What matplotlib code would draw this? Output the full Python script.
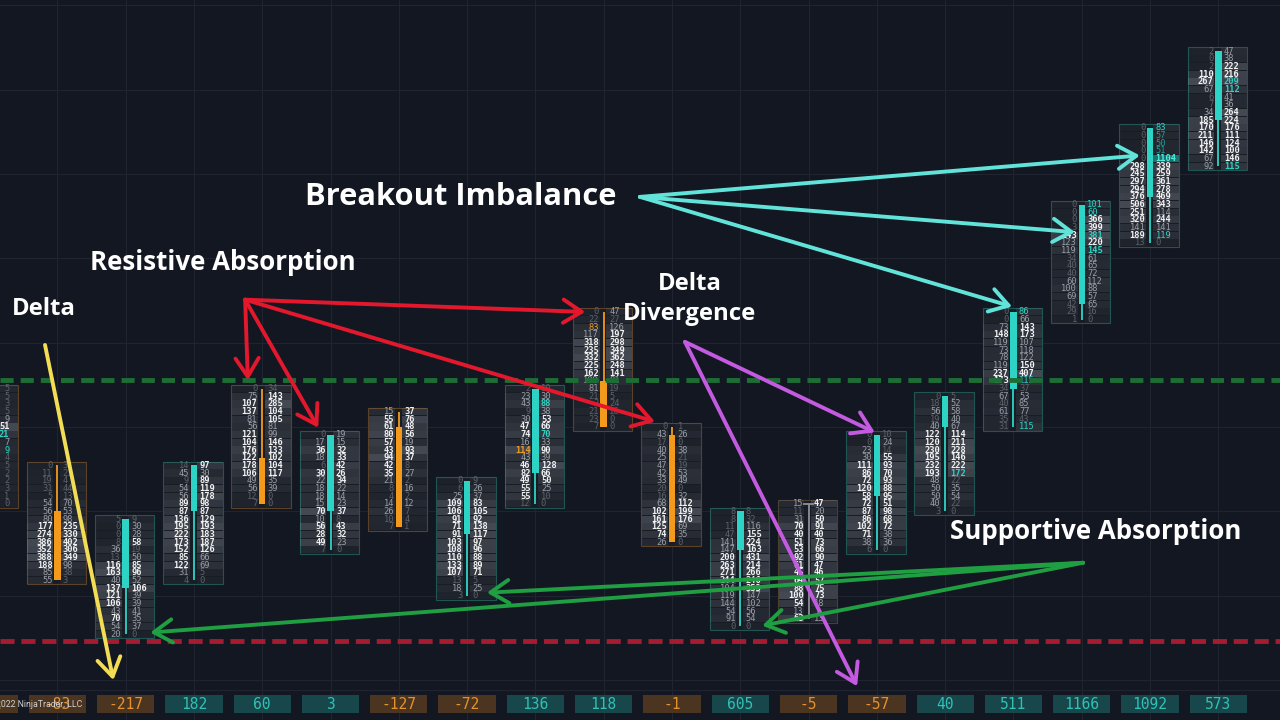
import matplotlib
matplotlib.use('Agg')
import matplotlib.pyplot as plt
from matplotlib.patches import Rectangle

# ---------------- data ----------------
tops = [43, 33, 26, 33, 43, 37, 40, 31, 43, 53, 38, 27, 28, 37, 42, 53, 67, 77, 87]
bids = [
    [12, 20, 8, 15, 30, 44, 38, 16, 22, 10, 9, 6, 5, 4, 2, 0],
    [0, 11, 19, 31, 5, 54, 56, 80, 177, 274, 386, 352, 388, 188, 85, 55],
    [5, 0, 0, 8, 36, 13, 116, 163, 40, 137, 121, 106, 43, 70, 54, 20],
    [14, 45, 9, 54, 56, 89, 87, 136, 195, 222, 173, 152, 85, 122, 31, 4],
    [0, 75, 107, 137, 81, 56, 121, 104, 176, 122, 178, 106, 49, 56, 12, 7],
    [0, 17, 36, 18, 6, 30, 22, 18, 18, 15, 70, 10, 56, 28, 49, 7],
    [15, 55, 61, 80, 57, 43, 94, 42, 35, 21, 8, 4, 14, 26, 10, 7],
    [0, 6, 25, 109, 106, 91, 71, 91, 103, 108, 110, 133, 107, 13, 18, 3],
    [2, 23, 43, 9, 30, 47, 74, 16, 114, 43, 46, 82, 49, 55, 55, 12],
    [0, 22, 83, 117, 318, 235, 332, 225, 162, 109, 81, 21, 2, 21, 23, 7],
    [0, 43, 17, 40, 25, 47, 42, 33, 20, 16, 68, 102, 161, 125, 74, 26],
    [8, 8, 11, 47, 141, 147, 200, 263, 271, 244, 104, 119, 144, 54, 91, 0],
    [15, 11, 31, 70, 40, 51, 53, 92, 61, 45, 64, 88, 100, 54, 13, 63],
    [0, 0, 23, 30, 111, 86, 72, 120, 58, 72, 87, 86, 102, 71, 38, 6],
    [0, 18, 56, 19, 40, 122, 120, 230, 195, 232, 193, 48, 50, 50, 40, 3],
    [0, 0, 73, 148, 119, 73, 78, 119, 237, 173, 34, 67, 40, 61, 35, 31],
    [0, 0, 0, 3, 243, 123, 119, 34, 40, 40, 60, 100, 69, 42, 29, 1],
    [0, 0, 0, 0, 0, 298, 245, 297, 294, 376, 506, 251, 320, 141, 189, 13],
    [2, 0, 2, 110, 267, 67, 6, 7, 34, 185, 170, 211, 146, 142, 67, 92],
]
asks = [
    [5, 5, 3, 5, 9, 51, 21, 7, 9, 4, 5, 2, 2, 3, 1, 0],
    [3, 21, 4, 44, 13, 70, 53, 98, 235, 330, 402, 306, 349, 98, 38, 3],
    [9, 30, 28, 58, 19, 50, 85, 96, 52, 106, 39, 39, 41, 35, 37, 0],
    [97, 30, 89, 119, 178, 98, 87, 129, 193, 183, 187, 126, 66, 69, 5, 0],
    [34, 143, 285, 104, 105, 81, 99, 146, 133, 102, 104, 117, 35, 39, 0, 0],
    [19, 15, 32, 33, 42, 26, 34, 22, 14, 23, 37, 8, 43, 32, 23, 0],
    [37, 76, 48, 56, 19, 93, 37, 8, 27, 2, 16, 2, 12, 7, 4, 1],
    [9, 26, 37, 83, 105, 92, 138, 117, 97, 96, 88, 89, 71, 5, 25, 0],
    [10, 30, 88, 38, 53, 66, 70, 33, 90, 39, 128, 66, 50, 25, 10, 0],
    [47, 27, 126, 197, 298, 349, 362, 248, 141, 81, 19, 5, 24, 16, 0, 0],
    [1, 26, 0, 38, 21, 19, 53, 49, 0, 32, 112, 199, 176, 69, 35, 0],
    [8, 32, 116, 155, 224, 163, 431, 214, 266, 246, 353, 147, 102, 56, 54, 0],
    [47, 20, 50, 91, 40, 73, 66, 90, 47, 46, 57, 75, 73, 18, 7, 13],
    [10, 24, 14, 55, 93, 70, 93, 88, 95, 51, 98, 68, 72, 38, 36, 0],
    [5, 52, 58, 40, 67, 114, 211, 228, 146, 222, 172, 22, 35, 54, 22, 0],
    [86, 66, 143, 173, 107, 118, 122, 150, 407, 115, 37, 53, 85, 77, 43, 115],
    [101, 60, 366, 399, 381, 220, 145, 61, 65, 72, 112, 88, 57, 65, 16, 0],
    [83, 57, 50, 51, 1104, 339, 259, 361, 278, 469, 343, 114, 244, 141, 119, 0],
    [47, 38, 222, 216, 209, 112, 41, 36, 264, 224, 176, 111, 124, 100, 146, 115],
]
body_hi = [40, 27, 26, 33, 34, 37, 38, 31, 43, 44, 37, 27, 28, 37, 42, 53, 67, 77, 87]
body_lo = [30, 18, 17, 27, 28, 27, 25, 24, 32, 38, 23, 22, 28, 29, 38, 43, 54, 68, 78]
candle = ['dn', 'dn', 'up', 'up', 'dn', 'up', 'dn', 'up', 'up', 'dn', 'dn', 'up', 'doji',
          'up', 'up', 'up', 'up', 'up', 'up']
deltas = [-41, -83, -217, 182, 60, 3, -127, -72, 136, 118, -1, 605, -5, -57, 40, 511, 1166, 1092, 573]
imb_ask = {0: [6, 8], 8: [2, 6], 14: [10], 15: [0, 9, 15], 16: [0, 1, 4, 6],
           17: [0, 1, 2, 3, 4, 14], 18: [4, 5, 15]}
imb_bid = {8: [8], 9: [2]}
strong_cells = [(17, 4)]

resist_level = 44.1
support_level = 10.1

# annotations: (text, position (col, level), alignment, size)
labels = [
    ("Breakout Imbalance", (4.63, 68.0), 'left', 22.2),
    ("Resistive Absorption", (1.48, 59.4), 'left', 18.6),
    ("Delta", (0.34, 53.4), 'left', 17.2),
    ("Delta\nDivergence", (10.26, 54.7), 'center', 17.2),
    ("Supportive Absorption", (14.07, 24.4), 'left', 18.6),
]
arrows = [
    ('#62e3da', (9.53, 68.0), [(16.85, 73.4), (15.90, 63.4), (14.98, 53.7)]),
    ('#e4182d', (3.75, 54.6), [(8.73, 53.0), (3.79, 44.1), (4.82, 37.9), (9.75, 38.7)]),
    ('#f3dd55', (0.82, 48.7), [(1.82, 5.0)]),
    ('#c35ae0', (10.19, 49.1), [(12.97, 37.3), (12.71, 4.2)]),
    ('#1f9e42', (16.02, 20.3), [(2.36, 11.2), (7.29, 16.4), (11.32, 12.1)]),
]

# ---------------- style ----------------
BG = '#131722'
CYAN = '#2dd4c6'
ORANGE = '#f39a1c'
MONO = 'DejaVu Sans Mono'

fig = plt.figure(figsize=(12.8, 7.2), dpi=100, facecolor=BG)
ax = fig.add_axes([0, 0, 1, 1])
ax.set_facecolor(BG)
ax.set_xlim(0.161, 18.902)
ax.set_ylim(-0.2, 93.67)
ax.axis('off')

# grid
for i in range(len(tops)):
    ax.axvline(i, color='#1f2430', lw=0.8, zorder=0)
for lv in range(5, 94, 11):
    ax.axhline(lv, color='#1f2430', lw=0.8, zorder=0)
ax.axhline(3.7, color='#1f2430', lw=0.8, zorder=0)

for i, top in enumerate(tops):
    b = bids[i]
    a = asks[i]
    n = len(b)
    bottom = top - n + 1
    up = candle[i] == 'up'
    edge = '#1f5553' if up else ('#5a4128' if candle[i] == 'dn' else '#4a4030')
    ax.add_patch(Rectangle((i - 0.45, bottom - 0.5), 0.87, n, facecolor='#181c25',
                           edgecolor=edge, lw=0.8, zorder=1))
    vmax = max(max(b), max([v for k, v in enumerate(a) if (i, k) not in strong_cells]))
    vmax = max(vmax, 1)
    # first column sits mostly off-screen: only its ask side is visible
    sides = (('bid', b, i - 0.44, i - 0.07, 'right'), ('ask', a, i + 0.04, i + 0.08, 'left'))
    if i == 0:
        sides = (('ask', a, i + 0.04, i + 0.30, 'right'),)
    for k in range(n):
        lv = top - k
        for side, vals, x0, xt, ha in sides:
            v = vals[k]
            r = min(v / vmax, 1.0)
            alpha = 0.04 + 0.30 * r ** 0.8
            fc = '#9aa0aa'
            if side == 'ask' and (i, k) in strong_cells:
                fc, alpha = '#1e7a74', 0.9
            ax.add_patch(Rectangle((x0, lv - 0.46), 0.38, 0.92, facecolor=fc,
                                   alpha=alpha, lw=0, zorder=2))
            if r >= 0.35 and v >= 20:
                col, wt = '#f2f2f2', 'bold'
            elif r >= 0.12:
                col, wt = '#9a9ea6', 'normal'
            else:
                col, wt = '#5c616a', 'normal'
            if side == 'ask' and k in imb_ask.get(i, []):
                col = CYAN if r >= 0.12 or (i, k) in strong_cells else '#1f9a92'
            if side == 'bid' and k in imb_bid.get(i, []):
                col = ORANGE
            if (i, k) in strong_cells and side == 'ask':
                col, wt = '#4ff0e2', 'bold'
            ax.text(xt, lv, str(v), ha=ha, va='center', fontsize=6.3, family=MONO,
                    color=col, fontweight=wt, zorder=3)
    # candle
    ccol = CYAN if up else (ORANGE if candle[i] == 'dn' else '#8d9097')
    ax.plot([i, i], [bottom, top], color=ccol, lw=1.3, zorder=4, solid_capstyle='butt')
    if candle[i] == 'doji':
        ax.plot([i - 0.06, i + 0.06], [body_hi[i], body_hi[i]], color=ccol, lw=1.3, zorder=4)
    else:
        ax.add_patch(Rectangle((i - 0.048, body_lo[i]), 0.096, body_hi[i] - body_lo[i],
                               facecolor=ccol, edgecolor='none', zorder=4))
    # delta box
    pos = deltas[i] > 0
    ax.add_patch(Rectangle((i - 0.42, 0.72), 0.84, 2.34,
                           facecolor='#17474b' if pos else '#4b3520', edgecolor='none', zorder=2))
    ax.text(i, 1.86, str(deltas[i]), ha='center', va='center', fontsize=10.5, family=MONO,
            color='#2fc2b6' if pos else '#e6922c', zorder=3)

ax.text(1.36, 1.86, "\u00a9 2022 NinjaTrader, LLC", ha='right', va='center', fontsize=6.3,
        color='#d0d0d0', zorder=5, family='Roboto')

# level lines
ax.axhline(resist_level, color='#1d6e35', lw=3.5, ls=(0, (2.7, 1.45)), zorder=5)
ax.axhline(support_level, color='#a51c30', lw=3.5, ls=(0, (2.9, 1.4)), zorder=5)

# arrows
for color, origin, targets in arrows:
    for t in targets:
        ax.annotate('', xy=t, xytext=origin,
                    arrowprops=dict(arrowstyle='->,head_length=0.6,head_width=0.38',
                                    color=color, lw=2.8, shrinkA=0, shrinkB=0,
                                    mutation_scale=22),
                    zorder=6)

for txt, (x, y), ha, fs in labels:
    ax.text(x, y, txt, ha=ha, va='center', fontsize=fs, color='white',
            family='Open Sans', fontweight='bold', zorder=7, linespacing=1.35)

fig.savefig('out.png', dpi=100, facecolor=BG)
